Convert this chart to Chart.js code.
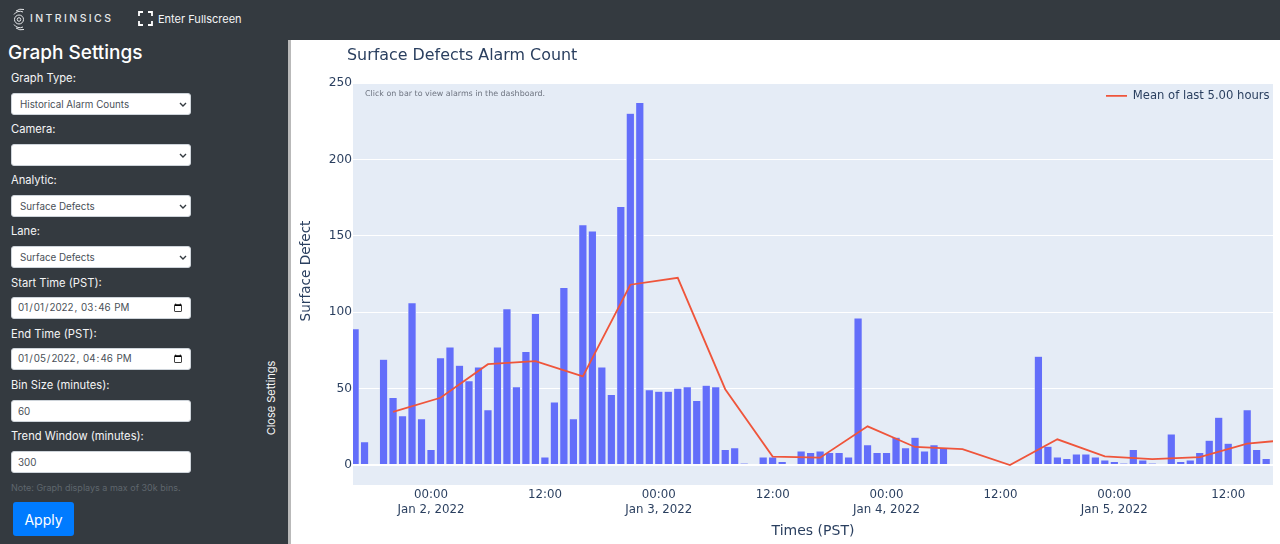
<!DOCTYPE html>
<html lang="en"><head><meta charset="utf-8"><title>Surface Defects Alarm Count</title>
<script src="https://cdn.jsdelivr.net/npm/chart.js@4"></script>
<style>
html,body{margin:0;padding:0;width:1280px;height:544px;overflow:hidden;background:#343a40;font-family:Inter,Roboto,sans-serif}
.t{position:absolute;color:#f4f5f6;font-size:11.2px;line-height:16px;white-space:nowrap}
.c{position:absolute;left:11px;width:180px;height:22px;box-sizing:border-box;border:1px solid #ced4da;border-radius:3px;background:#fff;color:#495057;font:9.8px Inter,Roboto,sans-serif;padding:0 5px;margin:0;outline:0}
select.c{appearance:none;-webkit-appearance:none;padding-left:8px;background:#fff url("data:image/svg+xml,%3Csvg xmlns='http://www.w3.org/2000/svg' width='8' height='5'%3E%3Cpath d='M1 1l3 3 3-3' fill='none' stroke='%23343a40' stroke-width='1.4'/%3E%3C/svg%3E") no-repeat right 3px center}
input[type=text].c{padding-left:6px}
#wrap{position:absolute;left:291px;top:40px;width:989px;height:504px;background:#fff}
#bar{position:absolute;left:288px;top:40px;width:3px;height:504px;background:#b9b9b9}
</style></head><body>
<svg style="position:absolute;left:12px;top:8px" width="19" height="23" viewBox="0 0 19 23" fill="none" stroke="#e6e8ea" stroke-width="1">
<circle cx="7" cy="11.5" r="1.8"/><circle cx="7" cy="11.5" r="4.5"/><path d="M2 6.5A7 7 0 0 1 11 4M4 3A9 9 0 0 1 12 1.5M2 16.5A7 7 0 0 0 11 19M4 20A9 9 0 0 0 12 21.5"/></svg>
<div class="t" style="left:30px;top:11px;font-size:10.5px;letter-spacing:2.4px;font-weight:500;color:#e6e8ea">INTRINSICS</div>
<svg style="position:absolute;left:138px;top:11px" width="15" height="15" viewBox="0 0 15 15" fill="none" stroke="#fff" stroke-width="1.8"><path d="M1 5V1H5M10 1H14V5M14 10V14H10M5 14H1V10"/></svg>
<div class="t" style="left:158px;top:11px;font-size:11px">Enter Fullscreen</div>
<div class="t" style="left:8px;top:41px;font-size:19px;line-height:24px;font-weight:500;color:#fff">Graph Settings</div>
<div class="t" style="left:11px;top:70px">Graph Type:</div>
<select class="c" style="top:93px"><option>Historical Alarm Counts</option></select>
<div class="t" style="left:11px;top:121px">Camera:</div>
<select class="c" style="top:144px"><option></option></select>
<div class="t" style="left:11px;top:172px">Analytic:</div>
<select class="c" style="top:195px"><option>Surface Defects</option></select>
<div class="t" style="left:11px;top:223px">Lane:</div>
<select class="c" style="top:246px"><option>Surface Defects</option></select>
<div class="t" style="left:11px;top:275px">Start Time (PST):</div>
<input class="c" style="top:297px" type="datetime-local" value="2022-01-01T15:46">
<div class="t" style="left:11px;top:326px">End Time (PST):</div>
<input class="c" style="top:348px" type="datetime-local" value="2022-01-05T16:46">
<div class="t" style="left:11px;top:377px">Bin Size (minutes):</div>
<input class="c" style="top:400px" type="text" value="60">
<div class="t" style="left:11px;top:428px">Trend Window (minutes):</div>
<input class="c" style="top:451px" type="text" value="300">
<div class="t" style="left:11px;top:480px;font-size:9px;color:#5f666d">Note: Graph displays a max of 30k bins.</div>
<button style="position:absolute;left:13px;top:502px;width:61px;height:34px;background:#007bff;color:#fff;border:0;border-radius:3px;font:14px Inter,Roboto,sans-serif;padding:0">Apply</button>
<div class="t" style="left:271px;top:398px;transform:translate(-50%,-50%) rotate(-90deg);font-size:11px">Close Settings</div>
<div id="bar"></div>
<div id="wrap"><canvas id="chart" width="989" height="504"></canvas></div>
<script>
// Data (x values are hours relative to Jan 2, 2022 00:00 PST)
const barHours = [-8,-7,-6,-5,-4,-3,-2,-1,0,1,2,3,4,5,6,7,8,9,10,11,12,13,14,15,16,17,18,19,20,21,22,23,24,25,26,27,28,29,30,31,32,33,34,35,36,37,38,39,40,41,42,43,44,45,46,47,48,49,50,51,52,53,54,64,65,66,67,68,69,70,71,72,73,74,75,76,77,78,79,80,81,82,83,84,85,86,87,88];
const barCounts = [89,15,0,69,44,32,106,30,10,70,77,65,55,64,36,77,102,51,74,99,5,41,116,30,157,153,64,46,169,230,237,49,48,48,50,51,42,52,51,10,11,1,0,5,5,2,0,9,8,9,8,8,5,96,13,8,8,18,11,18,9,13,11,71,12,5,4,7,7,5,3,2,1,10,3,1,0,20,2,3,8,16,31,14,0,36,10,4];
const meanHours = [-4,1,6,11,16,21,26,31,36,41,46,51,56,61,66,71,76,81,86,91];
const meanValues = [34.7,44,66,68,58,118,122.5,49.6,5.5,4.8,25.3,11.8,10.4,0,16.8,5.7,3.9,5.2,14,16.8];
const yTickValues = [0,50,100,150,200,250];
const xTickHours = [0,12,24,36,48,60,72,84];
const xTickLabels = [['00:00','Jan 2, 2022'],'12:00',['00:00','Jan 3, 2022'],'12:00',['00:00','Jan 4, 2022'],'12:00',['00:00','Jan 5, 2022'],'12:00'];
const chartTitle = 'Surface Defects Alarm Count';
const xTitle = 'Times (PST)';
const yTitle = 'Surface Defect';
const noteText = 'Click on bar to view alarms in the dashboard.';
const meanLabel = 'Mean of last 5.00 hours';

const INK='#2a3f5f', FONT='"DejaVu Sans",Verdana,sans-serif';
Chart.defaults.font.family=FONT; Chart.defaults.color=INK;
const decor={id:'decor',
 beforeDraw(c){const a=c.chartArea,x=c.ctx;x.save();x.fillStyle='#E5ECF6';x.fillRect(a.left,a.top,a.right-a.left,a.bottom-a.top);x.restore();},
 afterLayout(c){
  if(c.titleBlock)c.titleBlock.left=56;
  const l=c.legend; if(l){l.left=814;l.right=l.left+l.width;l.top=c.chartArea.top+6;l.bottom=l.top+l.height;}
 },
 afterDatasetsDraw(c){const a=c.chartArea,x=c.ctx;x.save();x.textBaseline='middle';
  x.font='7.95px '+FONT;x.fillStyle='#6e7480';x.fillText(noteText,a.left+12,a.top+11);
  x.font='13.6px '+FONT;x.fillStyle=INK;x.textAlign='center';x.translate(15,231);x.rotate(-Math.PI/2);x.fillText(yTitle,0,0);
  x.restore();}
};
new Chart(document.getElementById('chart'),{
 data:{datasets:[
  {type:'line',label:meanLabel,data:meanHours.map((h,i)=>({x:h,y:meanValues[i]})),borderColor:'#EF553B',backgroundColor:'#EF553B',borderWidth:1.8,pointRadius:0,tension:0,order:0},
  {type:'bar',label:'Alarm count',data:barHours.map((h,i)=>({x:h,y:barCounts[i]})),backgroundColor:'#636EFA',borderColor:'rgba(229,236,246,0.9)',borderWidth:0.5,barThickness:7.6,order:1}
 ]},
 plugins:[decor],
 options:{responsive:false,animation:false,devicePixelRatio:1,
  layout:{padding:{left:0,right:7,top:0,bottom:0}},
  plugins:{
   title:{display:true,text:chartTitle,align:'start',color:INK,font:{size:15.9,weight:'normal'},padding:{top:6,bottom:18}},
   legend:{position:'chartArea',align:'start',labels:{filter:i=>i.text===meanLabel,usePointStyle:true,pointStyle:'line',pointStyleWidth:21,color:INK,font:{size:11.6},boxWidth:21,boxHeight:8,padding:1}},
   tooltip:{enabled:false}},
  scales:{
   x:{type:'linear',offset:false,min:-8.22,max:88.72,grid:{display:false,drawTicks:false},border:{display:false},
     afterBuildTicks:s=>{s.ticks=xTickHours.map(v=>({value:v}));},
     afterFit:s=>{s.height=59;},
     ticks:{autoSkip:false,maxRotation:0,padding:2,font:{size:11.8,lineHeight:1.27},color:INK,callback:(v)=>xTickLabels[xTickHours.indexOf(v)]},
     title:{display:true,text:xTitle,color:INK,font:{size:14},padding:{top:3,bottom:4}}},
   y:{min:-13.1,max:250,border:{display:false},
     grid:{color:'#fff',drawTicks:false,lineWidth:t=>t.tick&&t.tick.value===0?2:1},
     afterBuildTicks:s=>{s.ticks=yTickValues.map(v=>({value:v}));},
     afterFit:s=>{s.width=62;},
     ticks:{padding:1,font:{size:12.2},color:INK},
     title:{display:false}}
  }
 }
});
</script>
</body></html>
